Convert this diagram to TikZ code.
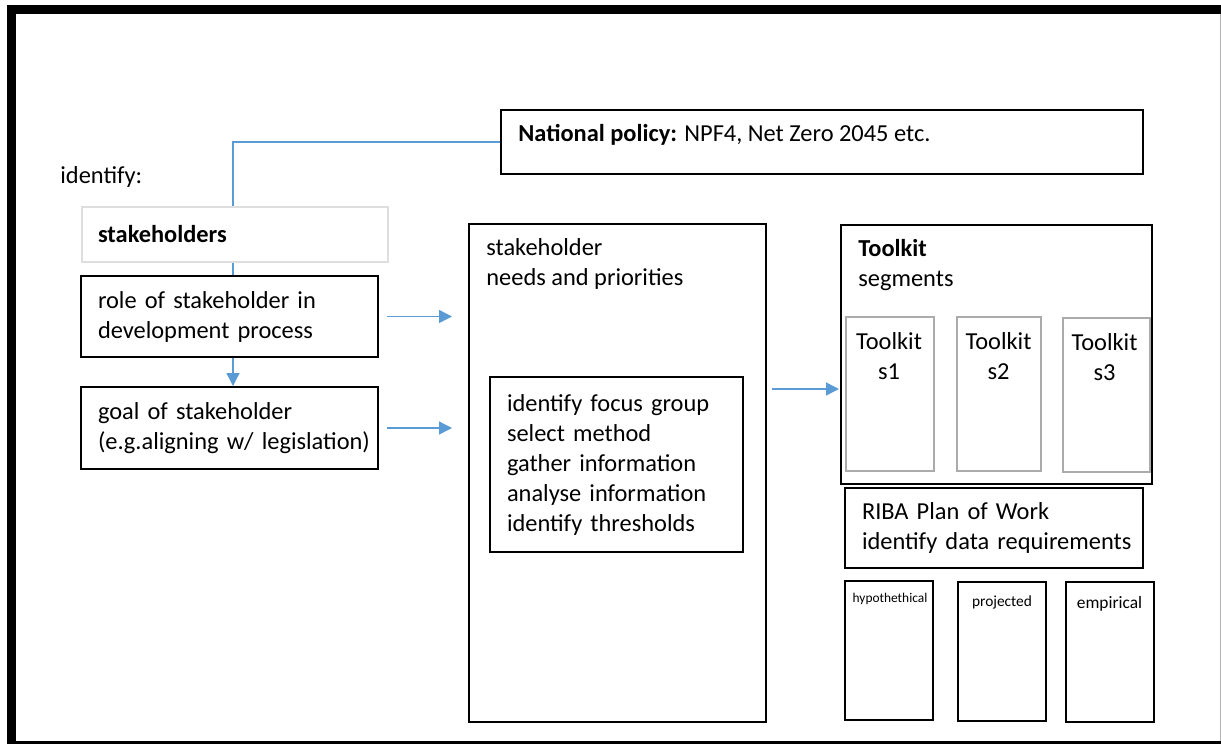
\documentclass[tikz,border=0pt]{standalone}
\usepackage{fontspec}
\setmainfont{Carlito}
\usetikzlibrary{
    arrows.meta
}

\definecolor{linkblue}{HTML}{5B9BD5}
\definecolor{seggray}{HTML}{ABABAB}
\definecolor{palegray}{HTML}{DEDEDE}

\begin{document}
\begin{tikzpicture}[x=0.5pt,y=-0.5pt,>={Triangle[length=6.5pt,width=6.5pt]},
    every node/.style={font=\fontsize{12.2}{15}\selectfont},
    box/.style={draw,line width=1pt,inner xsep=8.5pt,align=left},
    txt/.style={inner sep=0pt,align=left},
    link/.style={draw=linkblue,line width=0.7pt}]
    \tikzstyle{segment}=[draw=seggray,line width=1pt]
    \useasboundingbox (0,0) rectangle (1221,744);
    \clip (0,0) rectangle (1221,744);
    % page frame
    \draw[line width=4.5pt] (1240,9.5) -- (11,9.5) -- (11,745.5) -- (1240,745.5);
    \draw[gray!60] (1220,14) -- (1220,741);

    % left column
    \node[txt, anchor=west] (ident) at (60,177) {identify:};
    \node[box, draw=palegray, minimum width=153pt, minimum height=27.5pt, inner xsep=8pt, text width=137pt] (stake) at (235,234.5) {\textbf{stakeholders}};
    \node[box, minimum width=148.5pt, minimum height=40.5pt, text width=131.5pt] (role) at (229.5,316.5) {role of stakeholder in\\development process};
    \node[box, minimum width=148.5pt, minimum height=41pt, text width=131.5pt] (goal) at (229.5,428) {goal of stakeholder\\\mbox{(e.g.aligning w/ legislation)}};

    % policy on top
    \node[box, minimum width=321pt, minimum height=32pt] (policy) at (822,142) {};
    \node[txt, anchor=west] (policytxt) at (518,135) {\textbf{National policy:} NPF4, Net Zero 2045 etc.};

    % middle column
    \node[box, minimum width=148.5pt, minimum height=249pt] (needs) at (617.5,473) {};
    \node[txt, anchor=west] (needstxt) at (486,263.5) {stakeholder\\needs and priorities};
    \node[box, minimum width=126.5pt, minimum height=87.5pt, text width=109.5pt] (steps) at (616.5,464.5) {identify focus group\\select method\\gather information\\analyse information\\identify thresholds};

    % toolkit and its segments
    \node[box, minimum width=155.5pt, minimum height=129.5pt] (kit) at (996.5,354.5) {};
    \node[txt, anchor=west] (kittxt) at (858,265) {\textbf{Toolkit}\\segments};
    \node[segment, minimum width=44pt, minimum height=77pt] (s1) at (890,394) {};
    \node[segment, minimum width=42pt, minimum height=77pt] (s2) at (999,394) {};
    \node[segment, minimum width=43.5pt, minimum height=77pt] (s3) at (1106.5,395) {};
    \node[txt, align=center] (s1txt) at (889,356) {Toolkit\\s1};
    \node[txt, align=center] (s2txt) at (998.5,356) {Toolkit\\s2};
    \node[txt, align=center] (s3txt) at (1104.5,357) {Toolkit\\s3};

    % data requirements
    \node[box, minimum width=149pt, minimum height=40pt, text width=132pt] (riba) at (994,528) {RIBA Plan of Work\\\mbox{identify data requirements}};
    \node[box, minimum width=44pt, minimum height=69.5pt] (hypo) at (889,650.5) {};
    \node[box, minimum width=44pt, minimum height=69.5pt] (proj) at (1002,651.5) {};
    \node[box, minimum width=44pt, minimum height=70pt] (emp) at (1110,652) {};
    \node[txt, font=\fontsize{6.7}{8}\selectfont] (hypotxt) at (890,599) {hypothethical};
    \node[txt, font=\fontsize{7.7}{9}\selectfont] (projtxt) at (1002,602) {projected};
    \node[txt, font=\fontsize{8.7}{10}\selectfont] (emptxt) at (1109.5,604) {empirical};

    % connectors
    \coordinate (spine) at (233,0);
    \coordinate (handoff) at (766,389);
    \draw[link] (policy.west) -| (spine |- stake.north);
    \draw[link] (spine |- stake.south) -- (spine |- role.north);
    \draw[link,->] (spine |- role.south) -- (spine |- goal.north);
    \draw[link,->,shorten <=4pt,shorten >=8pt] (role.east) -- (role.east -| needs.west);
    \draw[link,->,shorten <=4pt,shorten >=8pt] (goal.east) -- (goal.east -| needs.west);
    \draw[link,->,shorten <=3pt,shorten >=0.5pt] (handoff) -- (handoff -| kit.west);
\end{tikzpicture}
\end{document}
